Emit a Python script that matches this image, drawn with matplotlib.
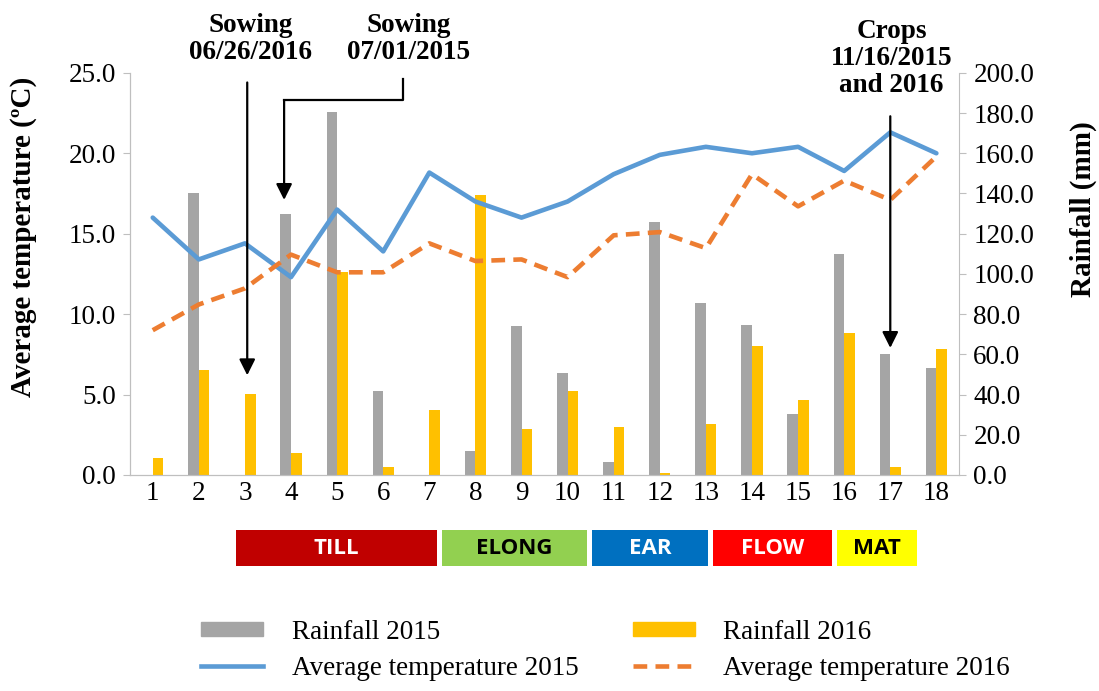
import numpy as np
import matplotlib
matplotlib.use('Agg')
import matplotlib.pyplot as plt
import matplotlib.transforms as mtransforms
from matplotlib.patches import Rectangle, Patch
from matplotlib.lines import Line2D

# --- data ---
periods = np.arange(1, 19)
rain_2015 = [0, 140, 0, 130, 180.5, 42, 0, 12, 74.3, 50.6, 6.3, 125.8, 85.4, 74.5, 30.2, 110, 60.2, 53]
rain_2016 = [8.6, 52, 40.3, 11, 101, 3.8, 32.5, 139.4, 22.9, 42, 23.7, 0.8, 25.4, 64.2, 37.3, 70.5, 3.8, 62.5]
temp_2015 = [16.0, 13.4, 14.4, 12.3, 16.5, 13.9, 18.8, 17.0, 16.0, 17.0, 18.7, 19.9, 20.4, 20.0, 20.4, 18.9, 21.3, 20.0]
temp_2016 = [9.0, 10.6, 11.6, 13.7, 12.6, 12.6, 14.4, 13.3, 13.4, 12.3, 14.9, 15.1, 14.1, 18.7, 16.7, 18.3, 17.1, 19.8]

phase_labels = ['TILL', 'ELONG', 'EAR', 'FLOW', 'MAT']
phase_start = [2.8, 7.27, 10.54, 13.16, 15.84]
phase_end = [7.17, 10.43, 13.05, 15.73, 17.58]
phase_colors = ['#C00000', '#92D050', '#0070C0', '#FF0000', '#FFFF00']
phase_text = ['white', 'black', 'white', 'white', 'black']

serif = 'Liberation Serif'
axis_gray = '#BFBFBF'
fs = 19.5

fig = plt.figure(figsize=(10.99, 6.91), dpi=100, facecolor='white')
ax = fig.add_axes([0.118, 0.3126, 0.755, 0.582])
axr = ax.twinx()

# rainfall bars on the right axis
w = 0.23
axr.bar(periods - w / 2, rain_2015, width=w, color='#A5A5A5', zorder=2)
axr.bar(periods + w / 2, rain_2016, width=w, color='#FFC000', zorder=2)
axr.set_ylim(0, 200)
axr.set_yticks(np.arange(0, 201, 20))
axr.set_yticklabels([f'{v:.1f}' for v in np.arange(0, 201, 20)], fontfamily=serif, fontsize=fs)
axr.set_ylabel('Rainfall (mm)', fontfamily=serif, fontsize=21, fontweight='bold')
axr.yaxis.set_label_coords(1.133, 0.66)

# temperatures on the left axis, drawn above the bars
ax.set_zorder(axr.get_zorder() + 1)
ax.patch.set_visible(False)
ax.plot(periods, temp_2015, color='#5B9BD5', lw=3.3, solid_capstyle='round')
ax.plot(periods, temp_2016, color='#ED7D31', lw=3.3, dashes=(3, 1.8))
ax.set_ylim(0, 25)
ax.set_xlim(0.5, 18.5)
ax.set_yticks(np.arange(0, 25.1, 5))
ax.set_yticklabels([f'{v:.1f}' for v in np.arange(0, 25.1, 5)], fontfamily=serif, fontsize=fs)
ax.set_xticks(periods)
ax.set_xticklabels([str(p) for p in periods], fontfamily=serif, fontsize=fs)
ax.set_ylabel('Average temperature (ºC)', fontfamily=serif, fontsize=21, fontweight='bold')
ax.yaxis.set_label_coords(-0.112, 0.592)

for a in (ax, axr):
    for s in a.spines.values():
        s.set_color(axis_gray)
    a.spines['top'].set_visible(False)
ax.spines['right'].set_visible(False)
ax.tick_params(axis='x', length=0, pad=4, colors='black')
ax.tick_params(axis='y', length=5, color=axis_gray, pad=5)
axr.tick_params(axis='y', length=5, color=axis_gray, pad=5)

# crop phase boxes under the x axis
trans = mtransforms.blended_transform_factory(ax.transData, ax.transAxes)
for lab, x0, x1, c, tc in zip(phase_labels, phase_start, phase_end, phase_colors, phase_text):
    ax.add_patch(Rectangle((x0, -0.226), x1 - x0, 0.089, transform=trans,
                           facecolor=c, edgecolor='none', clip_on=False))
    ax.text((x0 + x1) / 2, -0.183, lab, transform=trans, ha='center', va='center',
            fontfamily='Open Sans', fontweight='bold', fontsize=16, color=tc)

# annotations
note = dict(transform=trans, ha='center', va='center', fontfamily=serif,
            fontweight='bold', fontsize=fs, linespacing=1.1)
ax.text(3.13, 1.085, 'Sowing\n06/26/2016', **note)
ax.text(6.56, 1.085, 'Sowing\n07/01/2015', **note)
ax.text(17.03, 1.035, 'Crops\n11/16/2015\nand 2016', **note)

arrow = dict(arrowstyle='-|>', color='black', lw=1.6, mutation_scale=24, shrinkA=0, shrinkB=0)
ax.annotate('', xy=(3.05, 6.2), xytext=(3.05, 24.4), arrowprops=arrow, annotation_clip=False)
ax.plot([6.42, 6.42, 3.85], [24.6, 23.3, 23.3], color='black', lw=1.6, clip_on=False)
ax.annotate('', xy=(3.85, 17.1), xytext=(3.85, 23.3), arrowprops=arrow, annotation_clip=False)
ax.annotate('', xy=(17.0, 7.9), xytext=(17.0, 22.3), arrowprops=arrow, annotation_clip=False)

# legend
handles = [Patch(color='#A5A5A5'), Line2D([], [], color='#5B9BD5', lw=3.3),
           Patch(color='#FFC000'), Line2D([], [], color='#ED7D31', lw=3.3, dashes=(3, 1.8))]
labels = ['Rainfall 2015', 'Average temperature 2015', 'Rainfall 2016', 'Average temperature 2016']
fig.legend(handles, labels, ncol=2, loc='center', bbox_to_anchor=(0.551, 0.059),
           frameon=False, prop={'family': serif, 'size': fs}, handlelength=2.3,
           handleheight=0.45, columnspacing=2.0, labelspacing=0.4, handletextpad=1.05,
           borderpad=0.2)

fig.savefig('out.png', dpi=100)
